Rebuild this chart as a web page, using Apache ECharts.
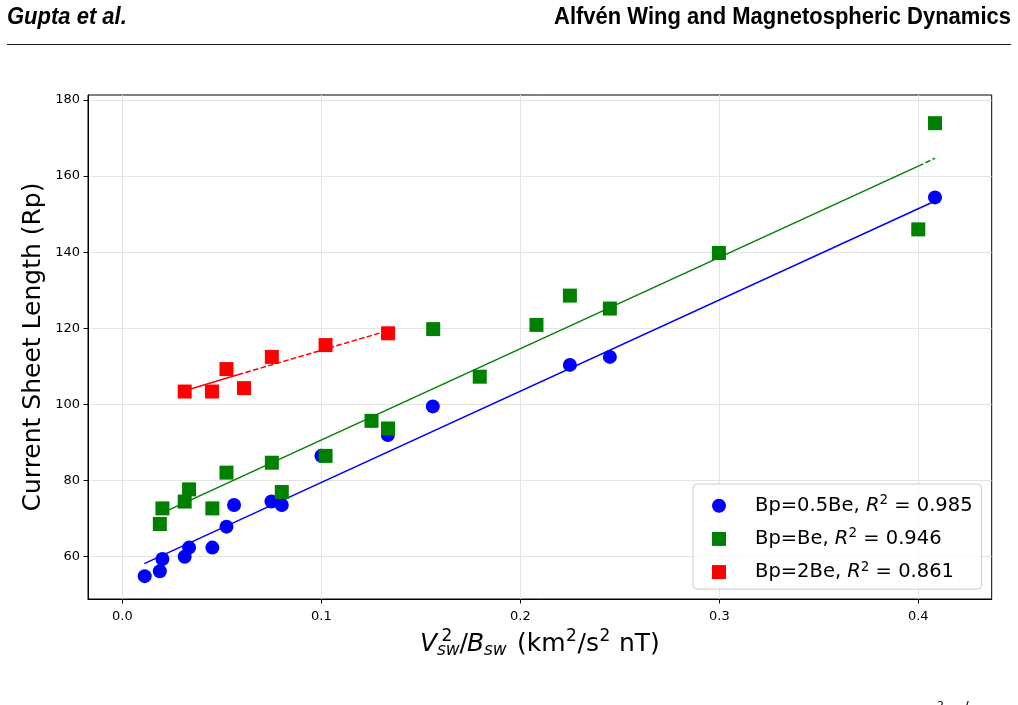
<!DOCTYPE html>
<html>
  <head>
    <meta charset="utf-8">
    <title>Current sheet length</title>
    <script src="https://cdn.jsdelivr.net/npm/echarts@6/dist/echarts.min.js"></script>
    <style>
      html, body { margin: 0; padding: 0; background: #fff; }
    </style>
  </head>
  <body>
    <div id="main" style="width: 1018px;height:705px;"></div>
    <script type="text/javascript">
      // data: [V^2/B, current sheet length]
      var halfBe = [
        [0.0112, 54.9], [0.0188, 56.2], [0.0201, 59.4], [0.0313, 60.0], [0.0335, 62.4],
        [0.0452, 62.4], [0.0523, 67.9], [0.0561, 73.6], [0.0749, 74.5], [0.0801, 73.6],
        [0.1000, 86.5], [0.1334, 92.0], [0.1560, 99.5], [0.2249, 110.4], [0.2450, 112.5],
        [0.4084, 154.4]
      ]
      var oneBe = [
        [0.0188, 68.6], [0.0201, 72.7], [0.0313, 74.5], [0.0335, 77.7], [0.0452, 72.7],
        [0.0523, 82.1], [0.0751, 84.7], [0.0801, 77.0], [0.1021, 86.5], [0.1252, 95.7],
        [0.1335, 93.7], [0.1562, 119.8], [0.1796, 107.3], [0.2081, 120.9], [0.2249, 128.6],
        [0.2450, 125.2], [0.2998, 139.8], [0.4000, 146.0], [0.4084, 173.9]
      ]
      var twoBe = [
        [0.0313, 103.4], [0.0450, 103.4], [0.0523, 109.3], [0.0611, 104.3],
        [0.0751, 112.5], [0.1021, 115.6], [0.1335, 118.7]
      ]

      // fitted lines (end points)
      var halfBeFit = [[0.011, 58.2], [0.409, 153.6]]
      var oneBeFit = [[0.0188, 71.2], [0.400, 162.6]]
      var oneBeTail = [[0.400, 162.6], [0.4084, 164.7]]
      var twoBeFit = [[0.0313, 103.6], [0.058, 107.8]]
      var twoBeTail = [[0.058, 107.8], [0.1335, 119.4]]

      var seriesNames = ['Bp=0.5Be', 'Bp=Be', 'Bp=2Be']
      var r2Values = ['0.985', '0.946', '0.861']
      var xTicks = [0, 0.1, 0.2, 0.3, 0.4]
      var yTicks = [60, 80, 100, 120, 140, 160, 180]

      var FONT = 'DejaVu Sans'
      var myChart = echarts.init(document.getElementById('main'), null, { renderer: 'canvas' })

      function fitLine(name, data, color, dashed) {
        return {
          name: name,
          type: 'line',
          data: data,
          showSymbol: false,
          symbol: 'none',
          silent: true,
          z: 2,
          lineStyle: { color: color, width: 1.5, type: dashed ? [5.5, 2.4] : 'solid' }
        }
      }

      function label(text, x, y, size, opts) {
        opts = opts || {}
        return {
          type: 'text',
          x: x,
          y: y,
          rotation: opts.rotation || 0,
          scaleY: opts.scaleY || 1,
          style: {
            text: text,
            fill: '#000',
            fontFamily: opts.family || FONT,
            fontSize: size,
            fontStyle: opts.italic ? 'italic' : 'normal',
            fontWeight: opts.bold ? 'bold' : 'normal',
            align: opts.align || 'left',
            verticalAlign: opts.valign || 'middle'
          }
        }
      }

      var option = {
        animation: false,
        backgroundColor: '#fff',
        grid: {
          left: 88, top: 95, right: 26.3, bottom: 106,
          show: true, borderColor: '#000', borderWidth: 1, backgroundColor: 'transparent'
        },
        xAxis: {
          type: 'value',
          min: -0.0173,
          max: 0.4369,
          axisLine: { show: true, onZero: false, lineStyle: { color: '#000', width: 1 } },
          axisTick: { show: true, length: 4.5, lineStyle: { color: '#000', width: 1 }, customValues: xTicks },
          axisLabel: {
            customValues: xTicks,
            formatter: function (v) { return v.toFixed(1) },
            fontFamily: FONT, fontSize: 13, color: '#000', margin: 11
          },
          splitLine: { show: true, lineStyle: { color: '#e4e4e4', width: 1 } }
        },
        yAxis: {
          type: 'value',
          min: 48.9,
          max: 181.3,
          axisLine: { show: true, onZero: false, lineStyle: { color: '#000', width: 1 } },
          axisTick: { show: true, length: 4.5, lineStyle: { color: '#000', width: 1 }, customValues: yTicks },
          axisLabel: {
            customValues: yTicks,
            fontFamily: FONT, fontSize: 13, color: '#000', margin: 8
          },
          splitLine: { show: true, lineStyle: { color: '#e4e4e4', width: 1 } }
        },
        legend: {
          data: [
            { name: seriesNames[0], icon: 'circle' },
            { name: seriesNames[1], icon: 'path://M0,0L10,0L10,10L0,10Z' },
            { name: seriesNames[2], icon: 'path://M0,0L10,0L10,10L0,10Z' }
          ],
          orient: 'vertical',
          left: 693,
          top: 484,
          padding: [9.7, 9, 7, 19],
          itemWidth: 14,
          itemHeight: 14,
          itemGap: 11.2,
          selectedMode: false,
          backgroundColor: 'rgba(255,255,255,0.8)',
          borderColor: '#cccccc',
          borderWidth: 1,
          borderRadius: 4,
          formatter: function (name) {
            var r2 = r2Values[seriesNames.indexOf(name)]
            return '{sp|}{t|' + name + ', }{i|R}{sup|2}{t| = ' + r2 + '}'
          },
          textStyle: {
            color: '#000',
            rich: {
              sp: { width: 24, lineHeight: 24 },
              t: { fontFamily: FONT, fontSize: 19.5, lineHeight: 24, color: '#000' },
              i: { fontFamily: FONT, fontSize: 19.5, fontStyle: 'italic', lineHeight: 24, color: '#000' },
              sup: { fontFamily: FONT, fontSize: 13.5, lineHeight: 14, verticalAlign: 'top', color: '#000' }
            }
          }
        },
        graphic: [
          label('Gupta et al.', 7, 17, 22, { family: 'Liberation Sans', bold: true, italic: true, scaleY: 1.08 }),
          label('Alfvén Wing and Magnetospheric Dynamics', 1011, 17, 22, { family: 'Liberation Sans', bold: true, align: 'right', scaleY: 1.08 }),
          {
            type: 'line',
            shape: { x1: 7, y1: 44.5, x2: 1011, y2: 44.5 },
            style: { stroke: '#1a1a1a', lineWidth: 1 }
          },
          label('Current Sheet Length (Rp)', 33, 347, 25, { rotation: Math.PI / 2, align: 'center' }),
          // x axis title: V^2_sw / B_sw (km^2/s^2 nT)
          label('V', 420, 644, 25, { italic: true }),
          label('2', 441.5, 636.5, 17),
          label('sw', 437, 651, 17, { italic: true }),
          label('/', 459.5, 644, 25),
          label('B', 467, 644, 25, { italic: true }),
          label('sw', 484, 651, 17, { italic: true }),
          label('(km', 517, 644, 25),
          label('2', 566, 636.5, 17),
          label('/s', 577.5, 644, 25),
          label('2', 599.5, 636.5, 17),
          label(' nT)', 611, 644, 25),
          label('2', 937, 706, 11),
          label('/', 964, 707, 14)
        ],
        series: [
          fitLine('fit1', halfBeFit, '#0000ff', false),
          fitLine('fit2', oneBeFit, '#008000', false),
          fitLine('fit2b', oneBeTail, '#008000', true),
          fitLine('fit3', twoBeFit, '#ff0000', false),
          fitLine('fit3b', twoBeTail, '#ff0000', true),
          {
            name: seriesNames[0], type: 'scatter', data: halfBe, symbol: 'circle', symbolSize: 14, z: 3,
            itemStyle: { color: '#0000ff', opacity: 1 }
          },
          {
            name: seriesNames[1], type: 'scatter', data: oneBe, symbol: 'rect', symbolSize: 14, z: 3,
            itemStyle: { color: '#008000', opacity: 1 }
          },
          {
            name: seriesNames[2], type: 'scatter', data: twoBe, symbol: 'rect', symbolSize: 14, z: 3,
            itemStyle: { color: '#ff0000', opacity: 1 }
          }
        ]
      };

      myChart.setOption(option);
    </script>
  </body>
</html>
